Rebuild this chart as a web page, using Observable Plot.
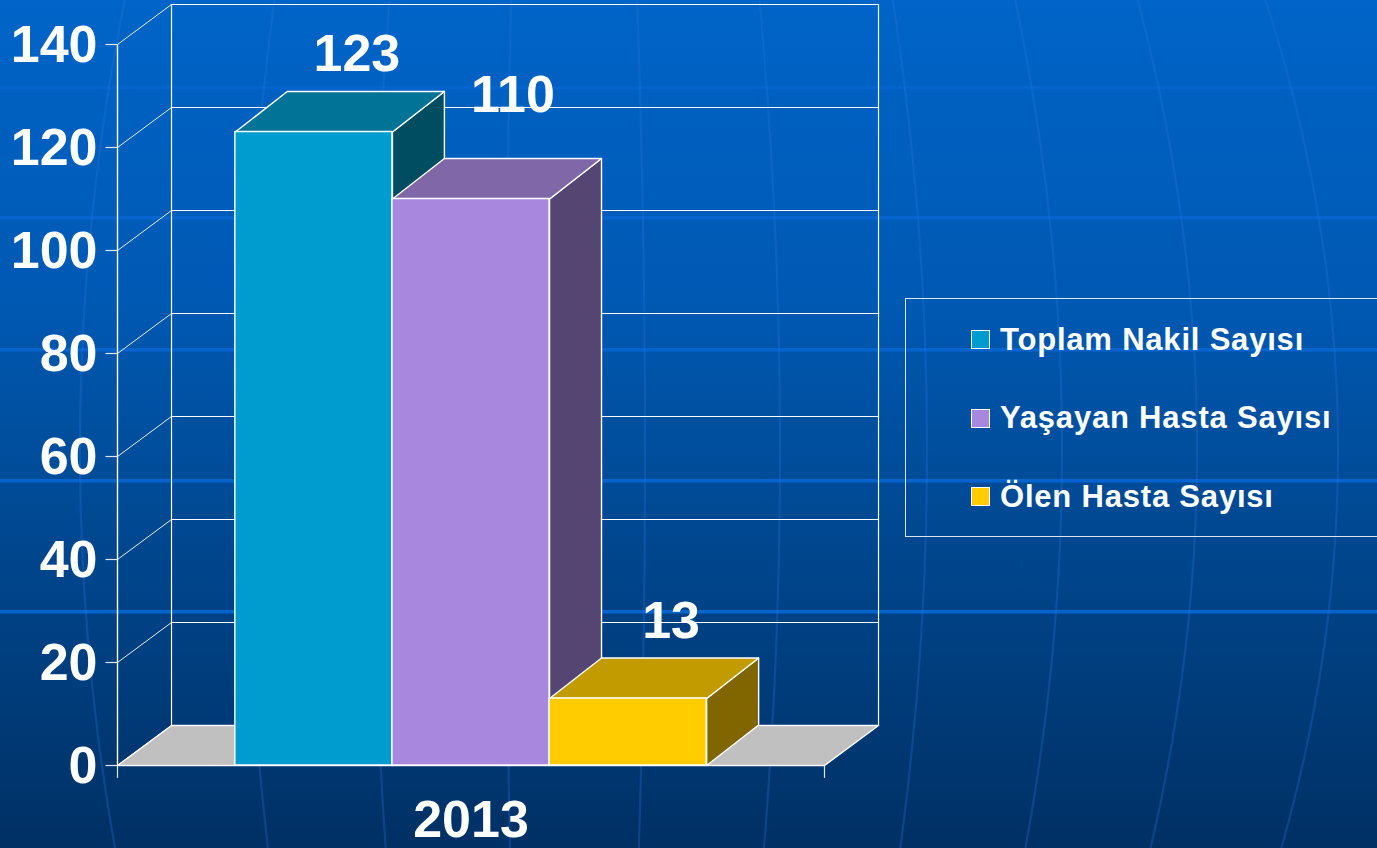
<!DOCTYPE html>
<html>
<head>
<meta charset="utf-8">
<script src="https://cdn.jsdelivr.net/npm/d3@7"></script>
<script src="https://cdn.jsdelivr.net/npm/@observablehq/plot@0.6"></script>
<style>
  html, body { margin: 0; padding: 0; overflow: hidden; background: #003064; }
  #wrap {
    position: relative; width: 1377px; height: 848px; overflow: hidden;
    background: linear-gradient(to bottom, #0064c8 0%, #0059b3 35%, #00478f 64%, #003064 100%);
    font-family: "Liberation Sans", Arial, sans-serif;
  }
  #bg, #chart { position: absolute; left: 0; top: 0; }
  #legend {
    position: absolute; left: 905px; top: 298px; width: 500px; height: 239px;
    border: 1px solid rgba(255,255,255,0.85); box-sizing: border-box;
  }
  .sw { position: absolute; left: 65px; width: 19px; height: 19px; box-sizing: border-box; border: 1.3px solid #fff; }
  .lt { position: absolute; left: 94px; font-size: 31px; line-height: 31px; font-weight: bold; color: #fff; letter-spacing: 0.8px; white-space: nowrap; }
</style>
</head>
<body>
<div id="wrap">
  <svg id="bg" width="1377" height="848"></svg>
  <div id="chart"></div>
  <div id="legend"></div>
</div>
<script>
// ---------- data ----------
const categories = ["Toplam Nakil Sayısı", "Yaşayan Hasta Sayısı", "Ölen Hasta Sayısı"];
const values = [123, 110, 13];
const yearLabel = "2013";
const yTicks = [0, 20, 40, 60, 80, 100, 120, 140];

// ---------- styles ----------
const frontColors = ["#009ccf", "#a887de", "#ffcc00"];
const topColors   = ["#007396", "#8068a8", "#c29b00"];
const sideColors  = ["#004d62", "#554573", "#816600"];
const floorColor = "#c0c0c0";
const font = "'Liberation Sans', Arial, sans-serif";

// ---------- 3D layout (data units) ----------
const gapFrac = 1 / 6, barW = 2 / 9;
const wallDX = 0.0764, wallDY = 7.77;
const barDX = 0.0735, barDY = 7.86;

// ---------- background decoration ----------
(function () {
  const bg = d3.select("#bg");
  [86, 216, 348, 479, 610].forEach(y =>
    bg.append("rect").attr("x", 0).attr("y", y).attr("width", 1377).attr("height", 3.5).attr("fill", "#0664cf"));
  const mids = [80, 245, 372, 506, 645, 780, 927, 1062, 1197, 1338];
  const c = 4.6e-7;
  const line = d3.line();
  mids.forEach(xm => {
    const pts = d3.range(0, 856, 8).map(y => [xm - c * (xm - 560) * (y - 450) * (y - 450), y]);
    bg.append("path").attr("d", line(pts)).attr("fill", "none")
      .attr("stroke", "#2a78e0").attr("stroke-opacity", 0.28).attr("stroke-width", 2.2);
  });
})();

// ---------- geometry built from data ----------
const bars = values.map((v, i) => {
  const x0 = gapFrac + i * barW, x1 = x0 + barW;
  return {
    i, v, x0, x1,
    side: [{x: x1, y: 0}, {x: x1 + barDX, y: barDY}, {x: x1 + barDX, y: v + barDY}, {x: x1, y: v}],
    top:  [{x: x0, y: v}, {x: x1, y: v}, {x: x1 + barDX, y: v + barDY}, {x: x0 + barDX, y: v + barDY}],
    lx: (x0 + x1) / 2 + barDX, ly: v + barDY
  };
});
const floorPoly = [{x: 0, y: 0}, {x: 1, y: 0}, {x: 1 + wallDX, y: wallDY}, {x: wallDX, y: wallDY}];

const edge = {stroke: "white", strokeWidth: 1.4, strokeLinejoin: "round"};
const marks = [
  // left wall diagonals
  Plot.link(yTicks, {x1: () => 0, y1: d => d, x2: () => wallDX, y2: d => d + wallDY, stroke: "#e8eef8", strokeWidth: 1}),
  // back wall gridlines
  Plot.link(yTicks, {x1: () => wallDX, y1: d => d + wallDY, x2: () => 1 + wallDX, y2: d => d + wallDY, stroke: "white", strokeWidth: 1.2}),
  // back wall vertical edges
  Plot.link([wallDX, 1 + wallDX], {x1: d => d, x2: d => d, y1: () => wallDY, y2: () => 140 + wallDY, stroke: "white", strokeWidth: 1.2}),
  // front value axis
  Plot.link([0], {x1: () => 0, x2: () => 0, y1: () => 0, y2: () => 140, stroke: "white", strokeWidth: 1.4}),
  // tick marks
  Plot.link(yTicks, {x1: () => -0.017, x2: () => 0, y1: d => d, y2: d => d, stroke: "#dde6f2", strokeWidth: 1.2}),
  // tick labels
  Plot.text(yTicks, {x: () => 0, y: d => d, text: d => String(d), textAnchor: "end", dx: -20, dy: 1,
    fill: "white", fontSize: 52, fontWeight: "bold", fontFamily: font}),
  // floor
  Plot.line(floorPoly, {x: "x", y: "y", curve: "linear-closed", fill: floorColor, ...edge}),
  // category edge ticks
  Plot.link([0, 1], {x1: d => d, x2: d => d, y1: () => 0, y2: () => -2.4, stroke: "#dde6f2", strokeWidth: 1.2}),
  // category label
  Plot.text([yearLabel], {x: () => 0.5, y: () => 0, text: d => d, dy: 55, fill: "white",
    fontSize: 52, fontWeight: "bold", fontFamily: font})
];

bars.forEach(b => {
  marks.push(Plot.line(b.side, {x: "x", y: "y", curve: "linear-closed", fill: sideColors[b.i], ...edge}));
  marks.push(Plot.line(b.top, {x: "x", y: "y", curve: "linear-closed", fill: topColors[b.i], ...edge}));
  marks.push(Plot.rect([b], {x1: "x0", x2: "x1", y1: () => 0, y2: "v", fill: frontColors[b.i], ...edge}));
});

// value labels (middle label sits higher to clear the neighbouring bar)
marks.push(Plot.text(bars.filter(b => b.i !== 1), {x: "lx", y: "ly", text: d => String(d.v), dx: -9, dy: -37,
  fill: "white", fontSize: 52, fontWeight: "bold", fontFamily: font}));
marks.push(Plot.text(bars.filter(b => b.i === 1), {x: "lx", y: "ly", text: d => String(d.v), dx: -10, dy: -63,
  fill: "white", fontSize: 52, fontWeight: "bold", fontFamily: font}));

const chart = Plot.plot({
  width: 1377, height: 848,
  marginTop: 0, marginRight: 0, marginBottom: 0, marginLeft: 0,
  x: {type: "linear", domain: [0, 1], range: [117, 824], axis: null},
  y: {type: "linear", domain: [0, 140], range: [765, 44], axis: null},
  style: {background: "transparent", overflow: "visible"},
  marks
});
document.getElementById("chart").appendChild(chart);

// ---------- legend ----------
const legend = d3.select("#legend");
categories.forEach((c, i) => {
  legend.append("div").attr("class", "sw").style("top", (31 + i * 78.5) + "px").style("background", frontColors[i]);
  legend.append("div").attr("class", "lt").style("top", (24.5 + i * 78.5) + "px").text(c);
});
</script>
</body>
</html>
